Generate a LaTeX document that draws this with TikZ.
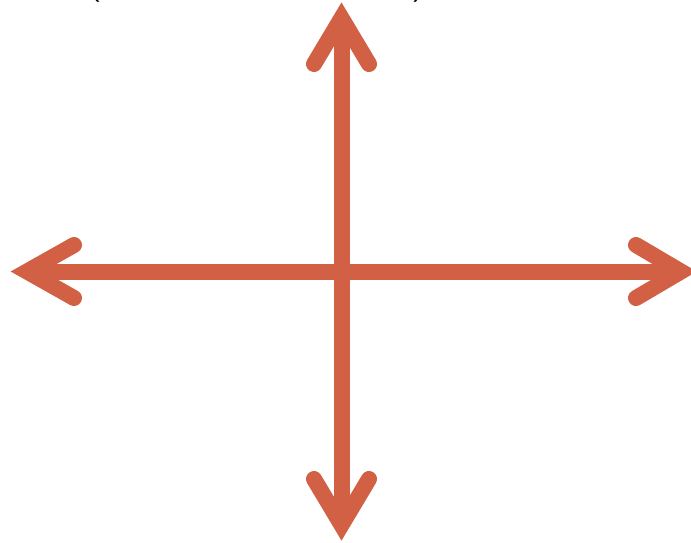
\documentclass[tikz,border=0pt]{standalone}
\usepackage{fontspec}
\setmainfont{Liberation Sans}
\definecolor{axisred}{RGB}{209,96,69}
\begin{document}
\begin{tikzpicture}[x=1pt, y=-1pt,
	axisline/.style={axisred, line width=16pt},
	axishead/.style={axisred, line width=16pt, line cap=round, line join=miter, miter limit=10}]
	\useasboundingbox (0,0) rectangle (691,542);
	
	% cut-off text line at the top
	\node[anchor=base, font=\fontsize{28}{30}\selectfont] (lparen) at (95,-4) {(};
	\node[anchor=base, font=\fontsize{28}{30}\selectfont] (rparen) at (418,-4) {)};
	
	\draw[axisline] (27,271.5) -- (681,271.5);
	\draw[axisline] (341.5,18) -- (341.5,525);
	
	\draw[axishead] (74,245) -- (27,271.5) -- (74,298);
	\draw[axishead] (636,245) -- (681,271.5) -- (636,298);
	\draw[axishead] (314,64) -- (341.5,18) -- (369,64);
	\draw[axishead] (314,479) -- (341.5,525) -- (369,479);
\end{tikzpicture}
\end{document}
